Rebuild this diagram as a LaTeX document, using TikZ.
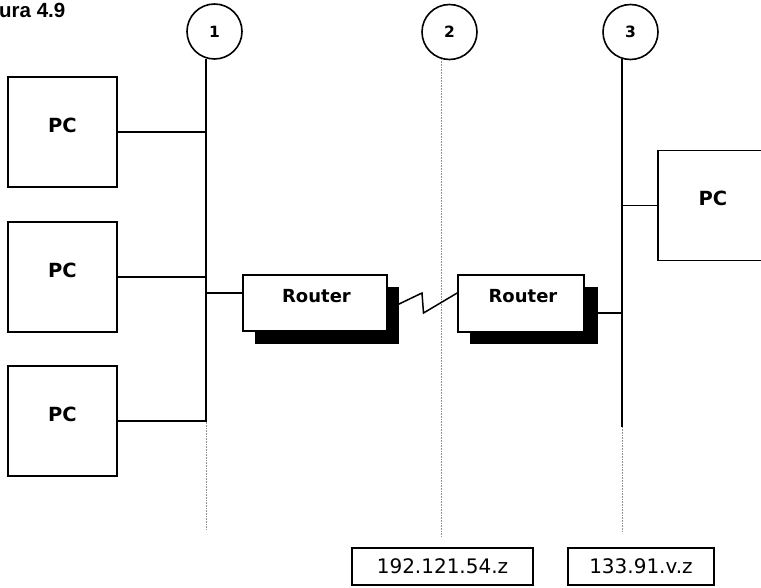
\documentclass[tikz,border=0pt]{standalone}
\usepackage{fontspec}
\setmainfont{DejaVu Sans}
\newfontfamily\titlefont{Liberation Sans}
\usetikzlibrary{calc,backgrounds}
\tikzset{
  pcbox/.style={draw, line width=1.6pt, rectangle, minimum width=109pt, minimum height=110pt, inner sep=0pt},
  pclabel/.style={font=\bfseries\fontsize{19.5}{19.5}\selectfont},
  routerbox/.style={draw, line width=1.6pt, fill=white, rectangle, inner sep=0pt},
  routerlabel/.style={font=\bfseries\fontsize{18}{18}\selectfont},
  netcircle/.style={draw, circle, line width=1.6pt, minimum size=55pt, inner sep=0pt, font=\bfseries\fontsize{15.5}{15.5}\selectfont},
  addrbox/.style={draw, line width=1.6pt, rectangle, minimum height=37pt, inner sep=0pt, font=\fontsize{20}{20}\selectfont},
  busline/.style={line width=1.6pt},
  wire/.style={line width=1.5pt},
  dotline/.style={line width=1.2pt, gray!85, dash pattern=on 0.8pt off 0.8pt},
}
\begin{document}
\begin{tikzpicture}[x=1pt, y=-1pt]
\useasboundingbox (0,0) rectangle (761,588);
\clip (0,0) rectangle (761,588);

% title
\node[anchor=base west, inner sep=0pt, font=\titlefont\bfseries\fontsize{20.5}{20.5}\selectfont] (title) at (-1,18) {ura 4.9};

% network circles
\node[netcircle] (c1) at (214.5,31.5) {1};
\node[netcircle] (c2) at (449.5,32) {2};
\node[netcircle] (c3) at (630.5,32) {3};

% bus coordinates
\coordinate (b1s) at ($(c1.-107)+(0,363)$);
\coordinate (b1e) at ($(c1.-107)+(0,471)$);
\coordinate (b2e) at ($(c2.-107)+(0,478)$);
\coordinate (b3s) at ($(c3.-107)+(0,368)$);
\coordinate (b3e) at ($(c3.-107)+(0,473)$);

\draw[busline] (c1.-107) -- (b1s);
\draw[dotline] (b1s) -- (b1e);
\draw[dotline] (c2.-107) -- (b2e);
\draw[busline] (c3.-107) -- (b3s);
\draw[dotline] (b3s) -- (b3e);

% PCs
\node[pcbox] (pc1) at (62.5,132) {};
\node[pclabel] (pc1t) at (62.5,125) {PC};
\node[pcbox] (pc2) at (62.5,277) {};
\node[pclabel] (pc2t) at (62.5,270) {PC};
\node[pcbox] (pc3) at (62.5,421) {};
\node[pclabel] (pc3t) at (62.5,414) {PC};
\node[pcbox, minimum width=112pt] (pc4) at (714,205.5) {};
\node[pclabel] (pc4t) at (713,198) {PC};

\draw[wire] (pc1.east) -- (pc1.east -| c1.-107);
\draw[wire] (pc2.east) -- (pc2.east -| c1.-107);
\draw[wire] (pc3.east) -- (pc3.east -| c1.-107);
\draw[wire] (pc4.west) -- (pc4.west -| c3.-107);

% routers
\node[routerbox, minimum width=144pt, minimum height=56pt] (r1) at (315,303) {};
\node[routerlabel] (r1t) at (316.5,296) {Router};
\node[routerbox, minimum width=126pt, minimum height=57pt] (r2) at (521,303.5) {};
\node[routerlabel] (r2t) at (523,296) {Router};

\begin{scope}[on background layer]
  \fill[black] ($(r1.south west)+(13,12)$) rectangle ($(r1.north east)+(11,13)$);
  \fill[black] ($(r2.south west)+(13,11)$) rectangle ($(r2.north east)+(13,13)$);
\end{scope}

% connections to routers
\coordinate (r1in) at ($(r1.west)+(0,-10)$);
\draw[wire] (r1in -| c1.-107) -- (r1in);
\coordinate (r2out) at ($(r2.east)+(9,9.5)$);
\draw[wire] (r2out) -- (r2out -| c3.-107);

% serial link zigzag
\coordinate (z0) at ($(r1.east)+(5,4)$);
\coordinate (z1) at (422,293);
\coordinate (z2) at (423.5,313);
\coordinate (z3) at ($(r2.west)+(0,-10.5)$);
\draw[wire] (z0) -- (z1) -- (z2) -- (z3);

% address boxes
\node[addrbox, minimum width=181pt] (a1) at (442.5,566.5) {192.121.54.z};
\node[addrbox, minimum width=146pt] (a2) at (641,566.5) {133.91.v.z};
\end{tikzpicture}
\end{document}
